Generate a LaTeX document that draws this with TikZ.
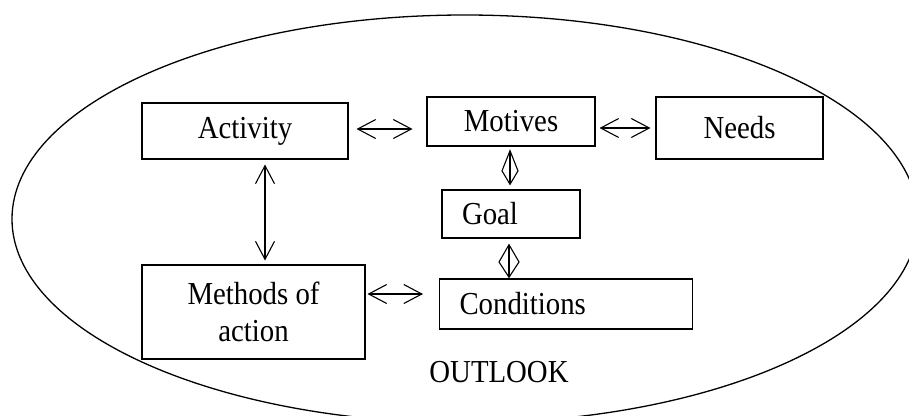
\documentclass[tikz,border=0pt]{standalone}
\usepackage{fontspec}
\setmainfont[FakeStretch=0.9]{Liberation Serif}
\usetikzlibrary{calc}
\newcommand\dblarrow[2]{%
  \draw[conn] (#1) -- (#2);
  \draw[conn] ($(#1)!18pt!(#2)!9.5pt!90:(#2)$) -- (#1) -- ($(#1)!18pt!(#2)!9.5pt!-90:(#2)$);
  \draw[conn] ($(#2)!18pt!(#1)!9.5pt!90:(#1)$) -- (#2) -- ($(#2)!18pt!(#1)!9.5pt!-90:(#1)$);}
\begin{document}
\begin{tikzpicture}[x=1pt,y=-1pt,
  box/.style={draw,line width=1.4pt,inner sep=0pt,font=\fontsize{32}{37}\selectfont},
  lbox/.style={box,align=left,inner xsep=20pt},
  conn/.style={line width=1.1pt,line join=miter},
  dia/.style={line width=1.1pt,line join=miter},
  lbl/.style={font=\fontsize{32}{37}\selectfont,inner sep=0pt}]
\useasboundingbox (0,0) rectangle (909,415);
\begin{scope}
\clip (0,0) rectangle (909,415);
\draw[line width=1.3pt] (465,219) ellipse [x radius=453pt, y radius=204pt];
\end{scope}
\node[box,minimum width=206pt,minimum height=56pt] (act) at (245,131) {Activity};
\node[box,minimum width=168pt,minimum height=49pt] (mot) at (511,121.5) {\raisebox{-3pt}{Motives}};
\node[box,minimum width=167pt,minimum height=62pt] (need) at (739.5,128) {Needs};
\node[lbox,text width=98pt,minimum height=48pt] (goal) at (511,214) {Goal};
\node[box,minimum width=223pt,minimum height=94pt,align=center] (meth) at (253.5,312) {Methods of\\action};
\node[lbox,text width=213pt,minimum height=50pt] (cond) at (566,304) {Conditions};
\node[lbl] (out) at (499,372) {OUTLOOK};
% double arrows
\coordinate (a1s) at ([shift={(9,-2)}]act.east);
\coordinate (a1e) at ([shift={(-15,7.5)}]mot.west);
\coordinate (a2s) at ([shift={(5,6.5)}]mot.east);
\coordinate (a2e) at ([shift={(-6,0)}]need.west);
\coordinate (a3s) at ([shift={(20,6)}]act.south);
\coordinate (a3e) at ([shift={(11.5,-5)}]meth.north);
\coordinate (a4s) at ([shift={(3,-18)}]meth.east);
\coordinate (a4e) at ([shift={(-17,-10)}]cond.west);
\dblarrow{a1s}{a1e}
\dblarrow{a2s}{a2e}
\dblarrow{a3s}{a3e}
\dblarrow{a4s}{a4e}
% diamond arrows
\coordinate (d1a) at ([shift={(-1,4)}]mot.south);
\coordinate (d1b) at ([shift={(-1,-5)}]goal.north);
\draw[dia] (d1a) -- ($(d1a)!0.6!(d1b)+(-8,0)$) -- (d1b) -- ($(d1a)!0.6!(d1b)+(8,0)$) -- cycle;
\draw[dia] (d1a) -- (d1b);
\coordinate (d2a) at ([shift={(-2,6)}]goal.south);
\coordinate (d2b) at ([shift={(-57,-1)}]cond.north);
\draw[dia] (d2a) -- ($(d2a)!0.53!(d2b)+(-10,0)$) -- (d2b) -- ($(d2a)!0.53!(d2b)+(10,0)$) -- cycle;
\draw[dia] (d2a) -- (d2b);
\end{tikzpicture}
\end{document}
